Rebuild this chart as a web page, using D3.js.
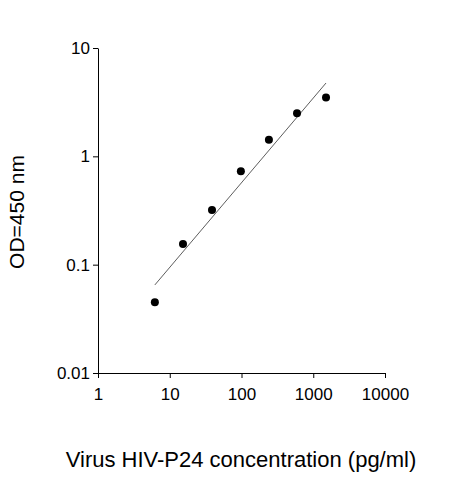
<!DOCTYPE html><html><head><script src="https://cdn.jsdelivr.net/npm/d3@7"></script>
<style>body{margin:0;background:#fff}</style></head><body><svg id="c" width="463" height="480"></svg>
<script>
const xVals=[6.2,15.3,38.8,98,241,594,1506];
const yVals=[0.045,0.155,0.32,0.73,1.42,2.5,3.5];
const fitX=[6.2,1506];
const fitY=[0.065,4.75];
const xTicks=[1,10,100,1000,10000];
const yTicks=[0.01,0.1,1,10];
const xTitle="Virus HIV-P24 concentration (pg/ml)";
const yTitle="OD=450 nm";
const svg=d3.select("#c");
const x=d3.scaleLog().domain([1,10000]).range([98,385]);
const y=d3.scaleLog().domain([0.01,10]).range([373,48]);
const font="Arial, 'Liberation Sans', sans-serif";
svg.append("g").attr("transform","translate(0,373)").call(d3.axisBottom(x).tickValues(xTicks).tickFormat(d3.format("d")).tickSize(5).tickSizeOuter(0))
 .call(g=>g.selectAll("text").attr("font-size",17).attr("font-family",font).attr("dy","1.1em"));
svg.append("g").attr("transform","translate(98,0)").call(d3.axisLeft(y).tickValues(yTicks).tickFormat(d=>String(d)).tickSize(5).tickSizeOuter(0))
 .call(g=>g.selectAll("text").attr("font-size",17).attr("font-family",font));
svg.selectAll(".domain,.tick line").attr("stroke","#000");
svg.append("line").attr("x1",x(fitX[0])).attr("y1",y(fitY[0])).attr("x2",x(fitX[1])).attr("y2",y(fitY[1])).attr("stroke","#333").attr("stroke-width",0.8);
svg.selectAll("circle").data(xVals).join("circle").attr("cx",d=>x(d)).attr("cy",(d,i)=>y(yVals[i])).attr("r",4).attr("fill","#000");
svg.append("text").attr("x",241).attr("y",467).attr("text-anchor","middle").attr("font-size",22).attr("font-family",font).text(xTitle);
svg.append("text").attr("transform","translate(24,212) rotate(-90)").attr("text-anchor","middle").attr("font-size",21).attr("font-family",font).text(yTitle);
</script></body></html>
